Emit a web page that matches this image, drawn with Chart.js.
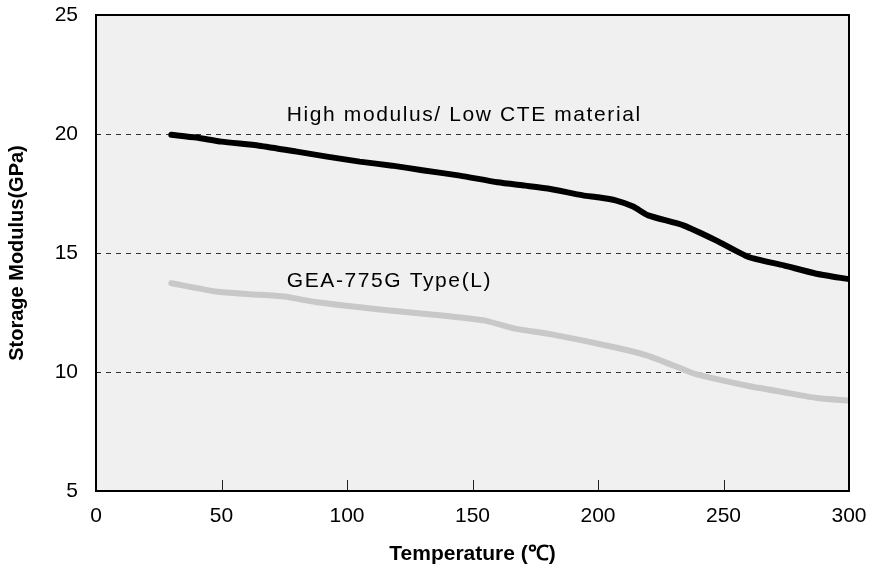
<!DOCTYPE html>
<html lang="en">
<head>
<meta charset="UTF-8">
<title>Storage Modulus vs Temperature</title>
<style>
body { margin: 0; background: #fff; }
#wrap { width: 870px; height: 567px; }
</style>
</head>
<body>
<div id="wrap"><canvas id="chart" width="870" height="567"></canvas></div>

<script src="https://cdn.jsdelivr.net/npm/chart.js"></script>
<script>
// values
const tempHigh = [30, 40, 50, 65, 80, 92, 105, 118, 130, 145, 160, 171, 180, 194, 200, 207, 214, 220, 234, 247, 260, 274, 287, 300];
const modHigh = [19.97, 19.85, 19.68, 19.51, 19.26, 19.05, 18.84, 18.67, 18.48, 18.25, 17.97, 17.83, 17.71, 17.42, 17.34, 17.21, 16.95, 16.58, 16.16, 15.53, 14.83, 14.48, 14.13, 13.9];

const tempGea = [30, 48, 61, 75, 88, 114, 141, 155, 167, 181, 207, 220, 234, 239, 260, 274, 287, 300];
const modGea = [13.73, 13.38, 13.27, 13.17, 12.93, 12.62, 12.34, 12.16, 11.82, 11.59, 11.03, 10.68, 10.11, 9.91, 9.41, 9.15, 8.91, 8.80];

const seriesNames = ['High modulus/ Low CTE material', 'GEA-775G Type(L)'];
const xTicks = [0, 50, 100, 150, 200, 250, 300];
const yTicks = [5, 10, 15, 20, 25];

const FONT = '"Liberation Sans", Arial, sans-serif';
const toPoints = (xs, ys) => xs.map((x, i) => ({ x: x, y: ys[i] }));

// plot background, frame, inside ticks and the curve labels
const framePlugin = {
    id: 'frame',
    beforeDraw(chart) {
        const { ctx, chartArea: a } = chart;
        ctx.save();
        ctx.fillStyle = '#f0f0f0';
        ctx.fillRect(a.left, a.top, a.right - a.left, a.bottom - a.top);
        ctx.restore();
    },
    afterDatasetsDraw(chart) {
        const { ctx, chartArea: a, scales } = chart;
        ctx.save();
        ctx.strokeStyle = '#222';
        ctx.lineWidth = 1;
        xTicks.slice(1, -1).forEach(v => {
            const px = Math.round(scales.x.getPixelForValue(v)) + 0.5;
            ctx.beginPath();
            ctx.moveTo(px, a.bottom);
            ctx.lineTo(px, a.bottom - 11);
            ctx.stroke();
        });
        yTicks.slice(1, -1).forEach(v => {
            const py = Math.round(scales.y.getPixelForValue(v)) + 0.5;
            ctx.beginPath();
            ctx.moveTo(a.left, py);
            ctx.lineTo(a.left + 5, py);
            ctx.stroke();
        });
        ctx.strokeStyle = '#000';
        ctx.lineWidth = 2;
        ctx.strokeRect(a.left, a.top, a.right - a.left, a.bottom - a.top);

        ctx.fillStyle = '#000';
        ctx.font = '21px ' + FONT;
        ctx.letterSpacing = '1.6px';
        ctx.textAlign = 'left';
        ctx.textBaseline = 'alphabetic';
        ctx.fillText(seriesNames[0], scales.x.getPixelForValue(76), scales.y.getPixelForValue(20.53));
        ctx.fillText(seriesNames[1], scales.x.getPixelForValue(76), scales.y.getPixelForValue(13.59));
        ctx.restore();
    }
};

new Chart(document.getElementById('chart'), {
    type: 'scatter',
    data: {
        datasets: [{
            label: seriesNames[0],
            data: toPoints(tempHigh, modHigh),
            showLine: true,
            borderColor: '#000',
            borderWidth: 6,
            borderCapStyle: 'round',
            borderJoinStyle: 'round',
            pointRadius: 0,
            tension: 0.2
        }, {
            label: seriesNames[1],
            data: toPoints(tempGea, modGea),
            showLine: true,
            borderColor: '#c8c8c8',
            borderWidth: 6,
            borderCapStyle: 'round',
            borderJoinStyle: 'round',
            pointRadius: 0,
            tension: 0.2
        }]
    },
    options: {
        responsive: false,
        animation: false,
        layout: { padding: { top: 15, right: 21, left: 0, bottom: 0 } },
        plugins: { legend: { display: false }, tooltip: { enabled: false } },
        scales: {
            x: {
                type: 'linear',
                min: 0,
                max: 300,
                afterBuildTicks: s => { s.ticks = xTicks.map(v => ({ value: v })); },
                afterFit: s => { s.height = 76; s.paddingLeft = 0; s.paddingRight = 0; },
                grid: { display: false, drawTicks: false },
                border: { display: false },
                ticks: { color: '#000', font: { family: FONT, size: 21 }, padding: 13, maxRotation: 0 },
                title: { display: true, text: 'Temperature (℃)', color: '#000', font: { family: FONT, size: 21, weight: 'bold' }, padding: { top: 0, bottom: 0 } }
            },
            y: {
                type: 'linear',
                min: 5,
                max: 25,
                afterBuildTicks: s => { s.ticks = yTicks.map(v => ({ value: v })); },
                afterFit: s => { s.width = 96; s.paddingTop = 0; s.paddingBottom = 0; },
                grid: {
                    drawTicks: false,
                    color: c => (c.tick && c.tick.value > 5 && c.tick.value < 25) ? '#333' : 'rgba(0,0,0,0)',
                    lineWidth: 1
                },
                border: { display: false, dash: [5, 5] },
                ticks: { color: '#000', font: { family: FONT, size: 21 }, padding: 18 },
                title: { display: true, text: 'Storage Modulus(GPa)', color: '#000', font: { family: FONT, size: 20, weight: 'bold' }, padding: { top: 5, bottom: 0 } }
            }
        }
    },
    plugins: [framePlugin]
});
</script>
</body>
</html>
